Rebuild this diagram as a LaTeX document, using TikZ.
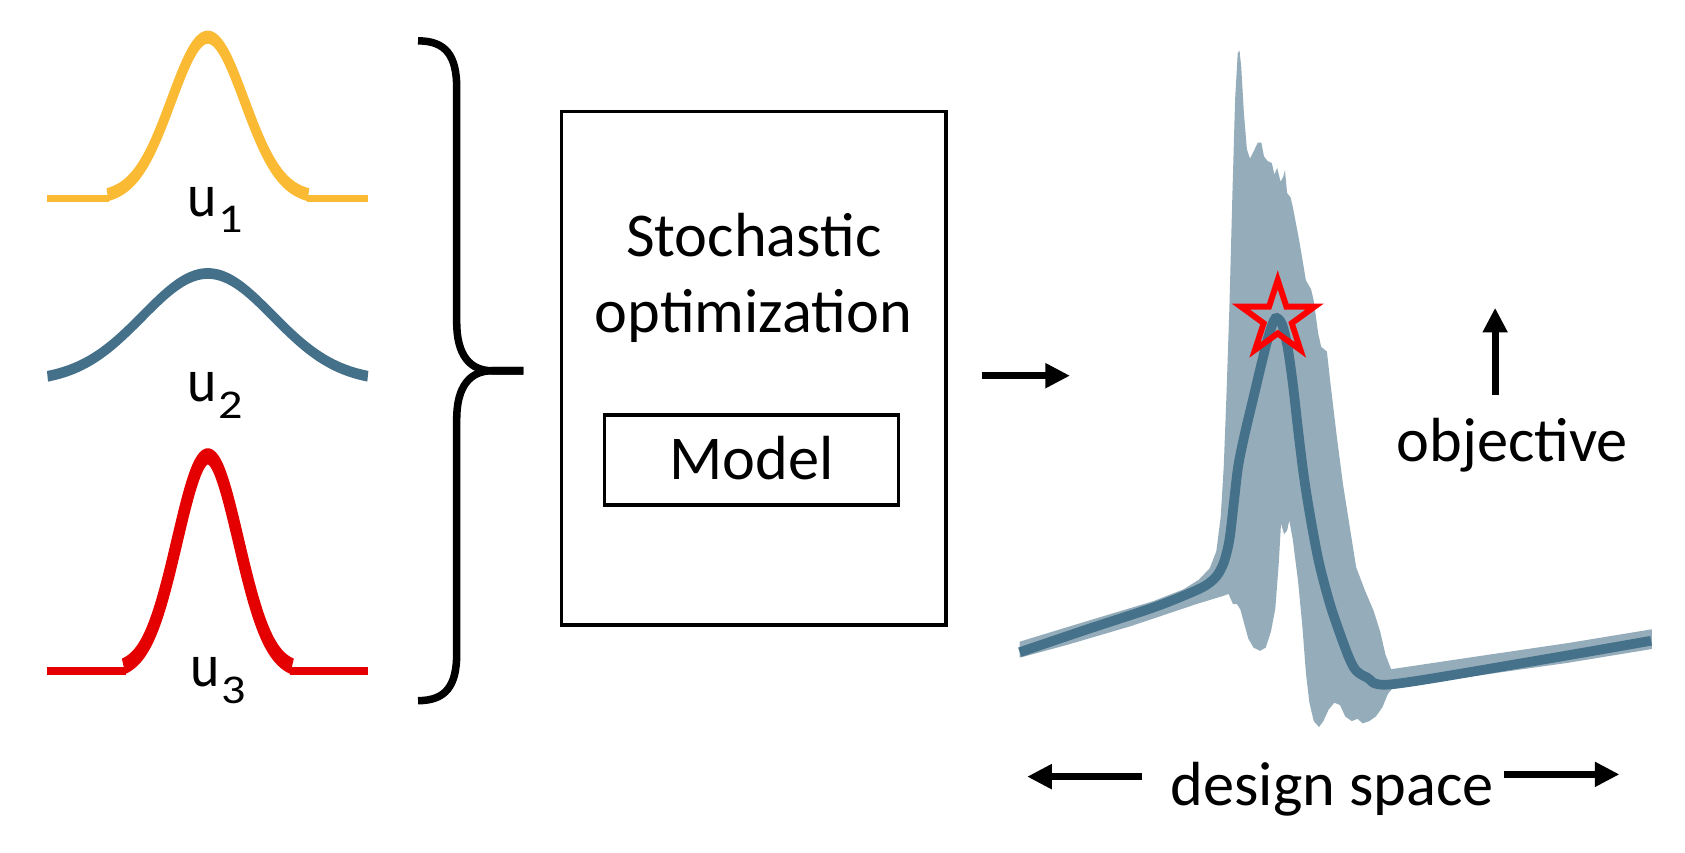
\documentclass[tikz,border=0pt]{standalone}
\usepackage{fontspec}
\setmainfont{Carlito}
\usetikzlibrary{arrows.meta,shapes.geometric}
\definecolor{uyel}{RGB}{250,186,52}
\definecolor{ublue}{RGB}{69,112,138}
\definecolor{ured}{RGB}{228,0,0}
\definecolor{bandc}{RGB}{149,173,186}
\definecolor{meanc}{RGB}{70,113,138}
\newcommand{\ulab}[1]{\scalebox{1}[1.09]{u}\hspace{1.5pt}\raisebox{-15.5pt}{\scalebox{1.12}[0.95]{\fontsize{40}{40}\selectfont #1}}}
\begin{document}
\begin{tikzpicture}[x=1pt,y=-1pt,
  bigtxt/.style={font=\fontsize{58}{70}\selectfont, anchor=base, inner sep=0pt},
  flowarrow/.style={line width=6.5pt, -{Triangle[length=23pt,width=22pt]}},
  framebox/.style={draw, line width=3.5pt, inner sep=0pt},
  ulabel/.style={anchor=base west, inner sep=0pt, font=\fontsize{52}{56}\selectfont},
  bracestyle/.style={line width=7pt}]
\useasboundingbox (0,0) rectangle (1568,793);

% ---------- input distributions (vertically stretched drawing) ----------
\begin{scope}[transform canvas={yscale=1.43}]
  % u1 (yellow)
  \draw[uyel, line width=4.2pt] (44.2,{184.6/1.43}) -- (101,{184.6/1.43});
  \draw[uyel, line width=4.2pt] (286,{184.6/1.43}) -- (342.3,{184.6/1.43});
  \draw[uyel, line width=8.5pt] plot[domain=100:287, samples=90, smooth]
     (\x,{(184.6-150*exp(-0.5*((\x-193.4)/34)^2))/1.43});
  % u2 (blue)
  \draw[ublue, line width=7pt] plot[domain=44.2:342.3, samples=120, smooth]
     (\x,{(355-100.5*exp(-0.5*((\x-193.4)/60.6)^2))/1.43});
  % u3 (red)
  \draw[ured, line width=5pt] (44.2,{624.7/1.43}) -- (117,{624.7/1.43});
  \draw[ured, line width=5pt] (270,{624.7/1.43}) -- (342.3,{624.7/1.43});
  \draw[ured, line width=10.5pt] plot[domain=115:271.8, samples=90, smooth]
     (\x,{(624.7-200*exp(-0.5*((\x-193.4)/28.6)^2))/1.43});
\end{scope}

\node[ulabel] (u1) at (174.5,201) {\ulab{1}};
\node[ulabel] (u2) at (174.5,373.8) {\ulab{2}};
\node[ulabel] (u3) at (177.3,639) {\ulab{3}};

% ---------- brace ----------
\coordinate (bracetop) at (389,38);
\coordinate (bracetip) at (487,345);
\coordinate (bracebot) at (389,652);
\draw[bracestyle] (bracetop) .. controls (415,38) and (425,52) .. (425,82) -- (425,300)
   .. controls (425,330) and (437,345) .. (458,345) -- (bracetip);
\draw[bracestyle] (bracetip) -- (458,345) .. controls (437,345) and (425,360) .. (425,390)
   -- (425,608) .. controls (425,638) and (415,652) .. (bracebot);

% ---------- optimization box ----------
\node[framebox, minimum width=358.2pt, minimum height=477.6pt] (opt) at (701.5,342.5) {};
\node[framebox, line width=3pt, minimum width=273.1pt, minimum height=83.7pt] (model) at (699.25,428) {};
\node[bigtxt] (t1) at (701.4,238.3) {Stochastic};
\node[bigtxt] (t2) at (701.2,309.8) {optimization};
\node[bigtxt] (t3) at (699.6,446) {Model};

% ---------- flow arrow ----------
\coordinate (fa) at (913.6,349.6);
\coordinate (fb) at (995.7,349.6);
\draw[flowarrow] (fa) -- (fb);

% ---------- result plot ----------
\begin{scope}[shift={(930.6,27.92)}, xscale=0.4066, yscale=0.4273]
\fill[bandc] (45,1332) -- (200,1287) -- (350,1244) -- (420,1218) -- (455,1197) -- (480,1172)
  -- (495,1135) -- (505,1060) -- (512,950) -- (518,800) -- (525,600) -- (532,350) -- (538,150)
  -- (544,50) -- (548,45) -- (552,80) -- (558,180) -- (565,260) -- (572,280) -- (580,265)
  -- (590,245) -- (598,245) -- (604,275) -- (612,285) -- (622,290) -- (628,315) -- (634,300)
  -- (642,330) -- (648,320) -- (652,305) -- (657,355) -- (665,365) -- (670,385) -- (685,460)
  -- (700,545) -- (712,565) -- (718,590) -- (728,660) -- (735,690) -- (748,700) -- (755,760)
  -- (770,880) -- (785,990) -- (800,1080) -- (815,1170) -- (835,1220) -- (855,1265)
  -- (870,1310) -- (882,1360) -- (895,1392) -- (1100,1363) -- (1300,1335) -- (1492,1305)
  -- (1492,1348) -- (1300,1378) -- (1100,1405) -- (900,1432) -- (888,1445) -- (875,1475)
  -- (860,1495) -- (845,1505) -- (830,1510) -- (818,1500) -- (805,1505) -- (790,1495)
  -- (778,1470) -- (765,1465) -- (752,1480) -- (740,1505) -- (730,1518) -- (718,1505)
  -- (708,1465) -- (700,1400) -- (692,1300) -- (682,1200) -- (670,1110) -- (662,1068)
  -- (657,1090) -- (650,1098) -- (643,1075) -- (638,1160) -- (630,1260) -- (620,1310)
  -- (608,1345) -- (595,1352) -- (580,1345) -- (568,1325) -- (558,1290) -- (550,1262)
  -- (542,1250) -- (533,1250) -- (523,1228) -- (512,1232) -- (450,1250) -- (300,1298)
  -- (150,1340) -- (45,1367) -- cycle;
\draw[meanc, line width=9pt] plot[smooth, tension=0.5] coordinates {
  (45,1355) (200,1305) (350,1258) (430,1228) (470,1210) (495,1190) (512,1160) (525,1110)
  (535,1030) (545,950) (560,880) (580,800) (600,720) (615,665) (630,628) (645,640)
  (658,690) (670,770) (682,870) (695,970) (710,1060) (730,1160) (755,1250) (780,1320)
  (800,1370) (815,1395) (840,1410) (895,1425) (1200,1378) (1490,1330)};
\end{scope}

\node[star, star points=5, star point ratio=2.618, minimum size=72pt, draw=red,
      line width=5.5pt, inner sep=0pt] (best) at (1189,296.5) {};

% ---------- axes labels ----------
\coordinate (oa) at (1391.3,367.6);
\coordinate (ob) at (1391.3,286.4);
\draw[flowarrow] (oa) -- (ob);
\node[bigtxt] (obj) at (1407.3,429.6) {objective};

\node[bigtxt] (ds) at (1239.6,750) {design space};
\coordinate (dla) at (1062.7,722.7);
\coordinate (dlb) at (955.8,722.7);
\coordinate (dra) at (1400,720.6);
\coordinate (drb) at (1507,720.6);
\draw[flowarrow] (dla) -- (dlb);
\draw[flowarrow] (dra) -- (drb);
\end{tikzpicture}
\end{document}
